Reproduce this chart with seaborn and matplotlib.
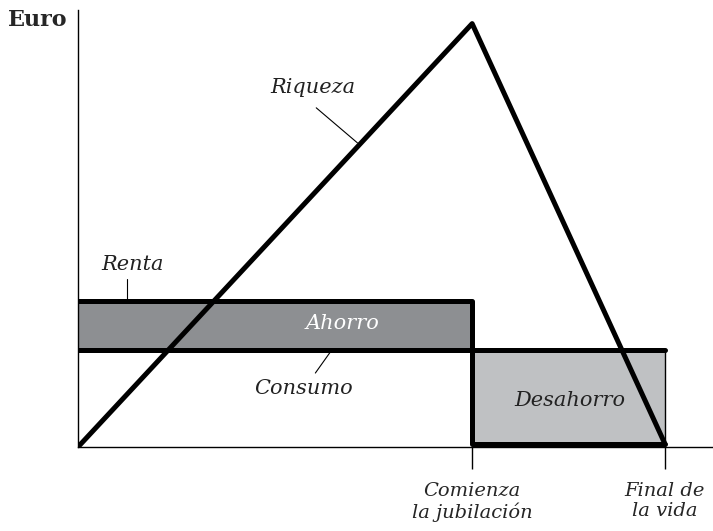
import pandas as pd
import matplotlib
matplotlib.use('Agg')
import matplotlib.pyplot as plt
import seaborn as sns

sns.set_theme(style='white')
plt.rcParams['font.family'] = ['DejaVu Serif']

# Datos del ciclo vital (unidades arbitrarias)
t_jubilacion = 45
t_final = 67
renta = 30
consumo = 20
riqueza_max = 87
base = 0.7

riqueza_t = [0, t_jubilacion, t_final]
riqueza_v = [0, riqueza_max, base]
renta_t = [0, t_jubilacion, t_jubilacion, t_final]
renta_v = [renta, renta, base, base]
consumo_t = [0, t_final]
consumo_v = [consumo, consumo]

etiquetas_x = ['Comienza\nla jubilación', 'Final de\nla vida']

fig = plt.figure(figsize=(7.13, 5.31), dpi=100)
ax = fig.add_axes([78 / 713, 84 / 531, 635 / 713, 437 / 531])

# Áreas de ahorro y desahorro
ax.fill_between([0, t_jubilacion], consumo, renta, color='#8d8f92', lw=0)
ax.fill_between([t_jubilacion, t_final], base, consumo, color='#bfc1c3', lw=0)

df_r = pd.DataFrame({'t': renta_t, 'v': renta_v})
df_c = pd.DataFrame({'t': consumo_t, 'v': consumo_v})
df_w = pd.DataFrame({'t': riqueza_t, 'v': riqueza_v})
sns.lineplot(data=df_r, x='t', y='v', sort=False, estimator=None, color='black', lw=3.6, ax=ax)
sns.lineplot(data=df_c, x='t', y='v', sort=False, estimator=None, color='black', lw=3.6, ax=ax)
ax.plot([t_final, t_final], [0, consumo], color='black', lw=1)
sns.lineplot(data=df_w, x='t', y='v', sort=False, estimator=None, color='black', lw=3.6, ax=ax)

ax.set_xlim(0, 72.5)
ax.set_ylim(0, 89.8)
for s in ['top', 'right']:
    ax.spines[s].set_visible(False)
for s in ['left', 'bottom']:
    ax.spines[s].set_color('black')
    ax.spines[s].set_linewidth(1)
ax.set_xlabel('')
ax.set_ylabel('')
ax.set_yticks([])
ax.set_xticks([t_jubilacion, t_final])
ax.set_xticklabels(etiquetas_x, fontsize=14, style='italic', linespacing=1.15)
ax.tick_params(axis='x', direction='out', length=16, width=1, color='black', pad=9,
               bottom=True)

txt = dict(fontsize=15, style='italic', color='#222222')
ax.text(26.8, 73.8, 'Riqueza', ha='center', va='center', **txt)
ax.plot([27.2, 31.9], [69.7, 62.5], color='black', lw=0.8)
ax.text(6.2, 37.4, 'Renta', ha='center', va='center', **txt)
ax.plot([5.6, 5.6], [30, 34.5], color='black', lw=0.8)
ax.text(25.7, 12.1, 'Consumo', ha='center', va='center', **txt)
ax.plot([28.8, 27.1], [19.5, 15.2], color='black', lw=0.8)
ax.text(30.2, 25.3, 'Ahorro', ha='center', va='center', fontsize=15, style='italic', color='white')
ax.text(56.2, 9.5, 'Desahorro', ha='center', va='center', **txt)

fig.text(8 / 713, 1 - 20 / 531, 'Euro', ha='left', va='center', fontsize=16, fontweight='bold')

fig.savefig('out.png', dpi=100)
